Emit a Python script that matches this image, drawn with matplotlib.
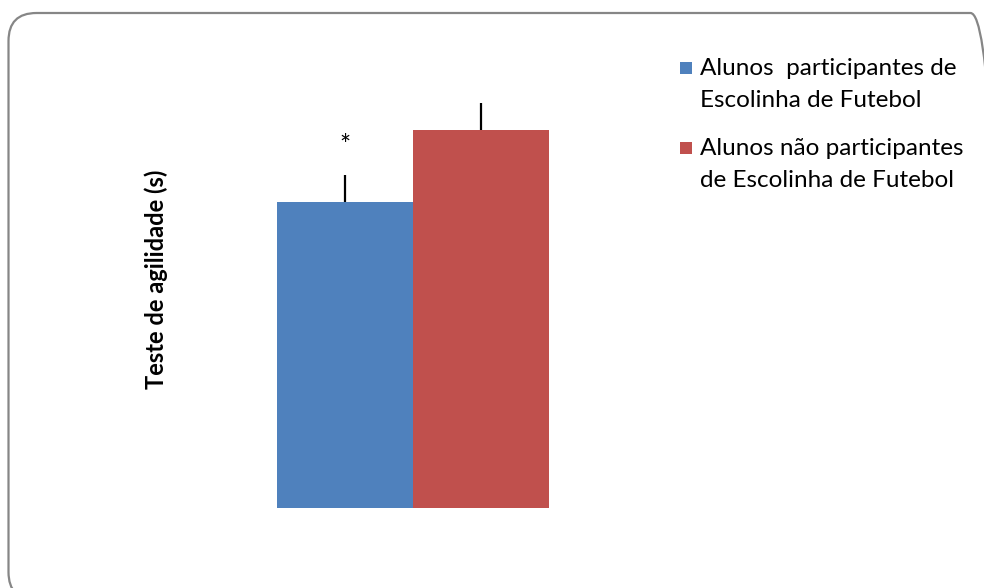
import matplotlib
matplotlib.use("Agg")
import matplotlib.pyplot as plt
from matplotlib.patches import FancyBboxPatch, Rectangle

# tempos medios (s) e desvio padrao de cada grupo
grupos = ["Alunos  participantes de\nEscolinha de Futebol",
          "Alunos não participantes\nde Escolinha de Futebol"]
medias = [16.1, 19.9]
desvios = [1.4, 1.4]
cores = ["#4F81BD", "#C0504D"]

plt.rcParams["font.family"] = ["Lato", "DejaVu Sans"]

W, H = 984, 588
fig = plt.figure(figsize=(W / 100, H / 100), dpi=100)


def px(x, y):
    # pixel (a partir do topo) -> fracao da figura
    return x / W, 1 - y / H


# moldura arredondada do grafico (em polegadas, para cantos circulares)
moldura = FancyBboxPatch((0.085, -0.12), 9.9, 5.88 - 0.13 + 0.12,
                         boxstyle="round,pad=0,rounding_size=0.28",
                         transform=fig.dpi_scale_trans, facecolor="none",
                         edgecolor="#868686", linewidth=1.6, clip_on=False)
fig.patches.append(moldura)

ax = fig.add_axes([277 / W, 80 / H, 272 / W, 418 / H])
x = [0, 1]
ax.bar(x, medias, width=1.0, color=cores, zorder=1)
ax.errorbar(x, medias, yerr=[[0, 0], desvios], fmt="none", ecolor="black",
            elinewidth=1.6, capsize=0, zorder=2)
# diferenca significativa
ax.text(0, 19.0, "*", ha="center", va="center", fontsize=19)

ax.set_xlim(-0.5, 1.5)
ax.set_ylim(0, 22)
ax.axis("off")

fig.text(*px(156, 279), "Teste de agilidade (s)", rotation=90,
         ha="center", va="center", fontsize=17, fontweight="bold")

# legenda: quadrado alinhado com a primeira linha de cada rotulo
for i, (rotulo, cor) in enumerate(zip(grupos, cores)):
    base = 75 + 80 * i
    fig.patches.append(Rectangle(px(680, base - 1), 12 / W, 12 / H,
                                 transform=fig.transFigure, facecolor=cor,
                                 edgecolor="none"))
    for j, linha in enumerate(rotulo.split("\n")):
        fig.text(*px(700, base + 32 * j), linha, ha="left", va="baseline",
                 fontsize=17.5)

fig.savefig("out.png", dpi=100)
